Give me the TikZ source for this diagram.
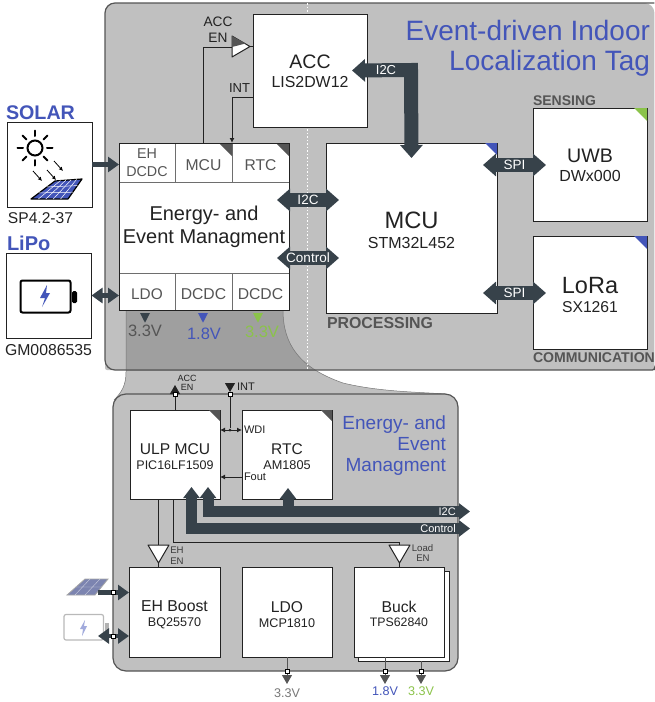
\documentclass[tikz,border=0pt]{standalone}
\usepackage{fontspec}
\setmainfont{Liberation Sans}
\usetikzlibrary{arrows.meta,calc}
\definecolor{panel}{HTML}{C0C0C0}
\definecolor{overlap}{HTML}{9F9F9F}
\definecolor{bus}{HTML}{37424A}
\definecolor{ink}{HTML}{222222}
\definecolor{tagblue}{HTML}{4355B9}
\definecolor{taggreen}{HTML}{8BC34A}
\definecolor{cellgray}{HTML}{555555}
\newcommand\fp[1]{\fontsize{#1}{#1}\selectfont}
\newcommand\topstr{\rule{0pt}{1em}}
\newcommand\lowstr{\rule{0pt}{.8em}}
\newcommand\midstr{\rule{0pt}{.9em}}
\newcommand\cornermark[3]{\fill[#2] (#1.north east) -- ++(-#3,0) -- ++(#3,#3) -- cycle;}
\tikzset{
 box/.style={draw=ink,fill=white,line width=1pt,inner sep=0pt,outer sep=0pt,align=center,text=ink},
 cell/.style={draw=cellgray!85,fill=white,line width=.8pt,inner sep=0pt,outer sep=0pt,align=center,text=cellgray},
 wire/.style={draw=ink,line width=1pt},
 txt/.style={inner sep=0pt,outer sep=0pt,text=ink,align=center},
 head/.style={inner sep=0pt,outer sep=0pt,text=cellgray,font=\bfseries},
 buslabel/.style={inner sep=0pt,text=white},
 fatbus/.style={draw=bus,line width=14pt},
 slimbus/.style={draw=bus,line width=11pt},
 power/.style={draw=bus,line width=4.5pt},
 port/.style={draw=black,fill=white,line width=.8pt,minimum size=4pt,inner sep=0pt,outer sep=0pt},
 buffer/.style={draw=ink,fill=white,line width=1pt,line join=round},
 bigtitle/.style={txt,anchor=east,text=tagblue,font=\fp{28},text height=20pt,text depth=0pt},
 subtitle/.style={txt,anchor=east,text=tagblue,font=\fp{19},text height=14pt,text depth=0pt},
 fathead/.tip={Triangle[width=22pt,length=13pt]},
 slimhead/.tip={Triangle[width=16pt,length=11pt]},
 powhead/.tip={Triangle[width=15pt,length=11pt]},
 smallhead/.tip={Latex[length=5pt,width=5pt]},
 outhead/.tip={Triangle[width=10pt,length=9pt]},
}
\begin{document}
\begin{tikzpicture}[x=1pt,y=-1pt]
\useasboundingbox (0,0) rectangle (655,702);
% main panel
\path[fill=panel] (105,370) [rounded corners=10pt] -- (105,3) -- (654.4,3) [rounded corners=2pt] -- (654.4,370) -- cycle;
% funnel
\def\funnel{(126,310) -- (126,372) .. controls (126,385) and (122,392) .. (114,400) -- (130,410) -- (445,410) -- (445,394) .. controls (420,392) and (380,392) .. (343,383) .. controls (300,368) and (283,345) .. (283,310) -- cycle}
\fill[panel] \funnel;
\begin{scope}
\clip (105,3) rectangle (654.4,370);
\fill[overlap] \funnel;
\end{scope}
\draw[cellgray!80,line width=.5pt] (126,310) -- (126,372) .. controls (126,385) and (122,392) .. (114,400);
\draw[cellgray!80,line width=.5pt] (445,394) .. controls (420,392) and (380,392) .. (343,383) .. controls (300,368) and (283,345) .. (283,310);
\draw[cellgray,line width=1.2pt] (654.4,370) [rounded corners=2pt] -- (654.4,370) [rounded corners=10pt] -- (105,370) -- (105,3) -- (654.4,3);
\draw[white,line width=.9pt,dash pattern=on 1.5pt off 2pt] (307,3) -- (307,370);
% title
\node[bigtitle] (title1) at (650,30) {Event-driven Indoor};
\node[bigtitle] (title2) at (650,60) {Localization Tag};
% solar / lipo
\node[txt,anchor=west,text=tagblue,font=\fp{19.7}\bfseries] (solarlabel) at (6,113) {SOLAR};
\node[box,minimum width=85pt,minimum height=85pt] (solarbox) at (49.5,164.5) {};
\node[txt,anchor=west,font=\fp{15.6}] (solarpart) at (8,218) {SP4.2-37};
\node[txt,anchor=west,text=tagblue,font=\fp{20}\bfseries] (lipolabel) at (7,243) {LiPo};
\node[box,minimum width=85pt,minimum height=85pt] (lipobox) at (49,295.5) {};
\node[txt,font=\fp{15.8}] (lipopart) at (48.5,350) {GM0086535};
% sun icon
\draw[black,line width=2pt] (35,148) circle (7.5);
\foreach \a in {0,45,...,315}{\draw[black,line width=2pt,line cap=round] (35,148) ++(\a:12) -- ++(\a:5.5);}
\foreach \p/\q in {33/171,47/170,54/161}{
 \draw[black,line width=.8pt,-{Latex[length=4pt,width=4pt]}] (\p,\q) -- ++(9,10);}
\coordinate (p0) at (55,181); \coordinate (p1) at (82,179); \coordinate (p2) at (68,199); \coordinate (p3) at (31,199);
\draw[black,fill=tagblue,line width=1.2pt,line join=round] (p0) -- (p1) -- (p2) -- (p3) -- cycle;
\foreach \t in {.33,.66}{\draw[white,line width=.5pt] ($(p0)!\t!(p3)$) -- ($(p1)!\t!(p2)$);}
\foreach \t in {.2,.4,.6,.8}{\draw[white,line width=.5pt] ($(p0)!\t!(p1)$) -- ($(p3)!\t!(p2)$);}
% battery icon
\draw[black,line width=2pt,fill=white,rounded corners=2pt] (20.5,280.5) rectangle (70.5,312.5);
\fill[black,rounded corners=1.5pt] (72,291) rectangle (77,303);
\fill[tagblue] (47,285) -- (40,298) -- (45,298) -- (42,307) -- (50,293) -- (46,293) -- cycle;
% top boxes
\node[box,minimum width=114pt,minimum height=113pt] (acc) at (310,70.5) {\fp{19.5}\lowstr ACC\\[7.5pt]\fp{15.9}LIS2DW12};
\node[box,minimum width=171pt,minimum height=170pt] (mcu) at (411.5,228) {\fp{23.7}\midstr MCU\\[8pt]\fp{16}STM32L452};
\node[box,minimum width=114pt,minimum height=113pt] (uwb) at (590,164.5) {\fp{19.6}\lowstr UWB\\[7pt]\fp{16}DWx000};
\node[box,minimum width=114pt,minimum height=113pt] (lora) at (590,292.5) {\fp{23.5}\midstr LoRa\\[7.5pt]\fp{15.7}SX1261};
\cornermark{mcu}{tagblue}{12}
\cornermark{uwb}{taggreen}{13}
\cornermark{lora}{tagblue}{13}
\node[head,anchor=west,font=\fp{14}\bfseries] (sensing) at (533,101) {SENSING};
\node[head,anchor=west,font=\fp{15.9}\bfseries] (processing) at (327,323) {PROCESSING};
\node[head,anchor=west,font=\fp{14.1}\bfseries] (comm) at (533,358) {COMMUNICATION};
% energy block
\node[box,minimum width=170pt,minimum height=167pt,font=\fp{20}] (emm) at (204,226.5) {Energy- and\\[3pt]Event Managment};
\node[cell,minimum width=56pt,minimum height=39pt,font=\fp{14.3}] (ehcell) at (147,162.5) {EH\\[3pt]DCDC};
\node[cell,minimum width=57pt,minimum height=39pt,font=\fp{15.7}] (mcucell) at (203.5,162.5) {\topstr MCU};
\node[cell,minimum width=57pt,minimum height=39pt,font=\fp{15.6}] (rtccell) at (260.5,162.5) {\topstr RTC};
\node[cell,minimum width=56pt,minimum height=37pt,font=\fp{15.4}] (ldocell) at (147,291.5) {\topstr LDO};
\node[cell,minimum width=57pt,minimum height=37pt,font=\fp{15.7}] (dcone) at (203.5,291.5) {\topstr DCDC};
\node[cell,minimum width=57pt,minimum height=37pt,font=\fp{15.7}] (dctwo) at (260.5,291.5) {\topstr DCDC};
\cornermark{mcucell}{cellgray}{13}
\cornermark{rtccell}{cellgray}{13}
\draw[ink,line width=1pt] (emm.south west) rectangle (emm.north east);
\fill[bus] (140,313) -- (150,313) -- (145,322.7) -- cycle;
\fill[tagblue] (198,313) -- (208,313) -- (203,322.7) -- cycle;
\fill[taggreen] (253,313) -- (263,313) -- (258,322.7) -- cycle;
\node[txt,text=cellgray,font=\fp{16.5}] (vone) at (145,331) {3.3V};
\node[txt,text=tagblue,font=\fp{16.5}] (vtwo) at (204,333.5) {1.8V};
\node[txt,text=taggreen,font=\fp{16.5}] (vthree) at (262,332) {3.3V};
% thin connectors top
\coordinate (accbufin) at (232,47);
\coordinate (accbufout) at (250,46.5);
\draw[wire] (mcucell.north) |- (accbufin);
\draw[wire] (accbufout) -- (accbufout -| acc.west);
\draw[wire,-{smallhead}] (acc.west |- 0,97) -| (mcucell.north east);
\draw[buffer] (232,36) -- (accbufout) -- (232,57) -- cycle;
\fill[cellgray] (232,36) -- (245.5,43.5) -- (232,47) -- cycle;
\node[txt,font=\fp{13.7}] (acclabel) at (218,22) {ACC};
\node[txt,font=\fp{13.7}] (enlabel) at (218,38) {EN};
\node[txt,font=\fp{13}] (intlabel) at (239.5,88) {INT};
% power arrows
\draw[power,-{powhead}] (solarbox.east) -- (solarbox.east -| ehcell.west);
\draw[power,{powhead}-{powhead}] (lipobox.east) -- (lipobox.east -| ldocell.west);
% fat buses
\draw[fatbus,{fathead}-{fathead}] (277,200) -- node[buslabel,font=\fp{13.5}] (ictwo) {I2C} (339,200);
\draw[fatbus,{fathead}-{fathead}] (277,258) -- node[buslabel,font=\fp{13.5}] (ctrl) {Control} (339,258);
\draw[fatbus,{fathead}-{fathead}] ([xshift=-15pt]acc.east) -- (411,70) -- ([yshift=-15pt]mcu.north);
\node[buslabel,font=\fp{13}] (icacc) at (386,70) {I2C};
\draw[fatbus,{fathead}-{fathead}] (483,165) -- node[buslabel,font=\fp{13.5}] (spione) {SPI} (546,165);
\draw[fatbus,{fathead}-{fathead}] (483,293) -- node[buslabel,font=\fp{13.5}] (spitwo) {SPI} (546,293);
% detail panel
\draw[cellgray,fill=panel,line width=1.2pt,rounded corners=13pt] (113,394) rectangle (458,671);
\node[subtitle] (dt1) at (446,422) {Energy- and};
\node[subtitle] (dt2) at (446,443) {Event};
\node[subtitle] (dt3) at (446,464) {Managment};
\node[box,minimum width=90pt,minimum height=89pt] (ulp) at (175,454.5) {\fp{15.6}\topstr ULP MCU\\[3.5pt]\fp{12.5}PIC16LF1509};
\node[box,minimum width=90pt,minimum height=89pt] (rtc) at (287,454.5) {\fp{15.5}\topstr RTC\\[2.5pt]\fp{12.7}AM1805};
\cornermark{ulp}{cellgray}{11}
\cornermark{rtc}{cellgray}{11}
\node[box,minimum width=91pt,minimum height=90pt] (boost) at (174.5,612) {\fp{15.8}\topstr EH Boost\\[3pt]\fp{12.6}BQ25570};
\node[box,minimum width=90pt,minimum height=90pt] (ldo) at (287,612) {\fp{15.6}\topstr LDO\\[3pt]\fp{12.6}MCP1810};
\node[box,minimum width=91pt,minimum height=90pt] (bucksh) at (403.5,616) {};
\node[box,minimum width=90pt,minimum height=90pt] (buck) at (399,612) {\fp{15.7}\topstr Buck\\[2pt]\fp{12.3}TPS62840};
% detail buses
\draw[slimbus,{slimhead}-{slimhead}] (208,487) |- (470,511.5);
\draw[slimbus,{slimhead}-{slimhead}] (191.5,487) |- (470,528.5);
\draw[slimbus,{slimhead}-] (288,488) -- (288,506);
\node[buslabel,anchor=east,font=\fp{11}] (detic) at (456,512) {I2C};
\node[buslabel,anchor=east,font=\fp{11}] (detctrl) at (456,528.5) {Control};
% detail wires
\draw[wire,-{outhead}] (ulp.north) -- (175,385);
\node[port] (accport) at (175,394) {};
\coordinate (intin) at (230,384);
\node[port] (intport) at (230,394) {};
\draw[wire,-{outhead}] (intin) -- (intport.north);
\node[circle,fill=ink,inner sep=0pt,minimum size=3pt] (wdidot) at (230,430) {};
\draw[wire] (intport) -- (wdidot);
\draw[wire,{smallhead}-{smallhead}] (ulp.east |- wdidot) -- (rtc.west |- wdidot);
\draw[wire,-{smallhead}] (rtc.west |- 0,477) -- (ulp.east |- 0,477);
\node[txt,anchor=west,font=\fp{11}] (wdi) at (244,430) {WDI};
\node[txt,anchor=west,font=\fp{11}] (fout) at (244,477) {Fout};
\node[txt,font=\fp{9}] (da) at (187,378) {ACC};
\node[txt,font=\fp{9}] (db) at (187,387.5) {EN};
\node[txt,anchor=west,font=\fp{11}] (dc) at (237,387) {INT};
% enables
\coordinate (ehbuf) at (158,545);
\coordinate (ldbuf) at (399.5,545);
\draw[wire] (ehbuf |- ulp.south) -- (ehbuf);
\draw[wire] (173,499) |- (399.5,542) -- (ldbuf);
\draw[buffer] (148,545) -- (169,545) -- (158.5,563) -- cycle;
\draw[buffer] (389,545) -- (410,545) -- (399.5,563) -- cycle;
\draw[wire] (158.5,563) -- (158.5,567);
\draw[wire] (399.5,563) -- (399.5,567);
\node[txt,font=\fp{9.6},text=cellgray!70!black] (ea) at (177,550) {EH};
\node[txt,font=\fp{9.6},text=cellgray!70!black] (eb) at (177,561) {EN};
\node[txt,font=\fp{9.6},text=cellgray!70!black] (la) at (422.5,548) {Load};
\node[txt,font=\fp{9.6},text=cellgray!70!black] (lb) at (423,558.5) {EN};
% faded inputs
\fill[tagblue!55!panel!80!gray,draw=gray!70,line width=.8pt] (67,595) -- (85,579) -- (108,579) -- (95,595) -- cycle;
\draw[white,opacity=.6,line width=.4pt] (76,587) -- (102,587) (90,579) -- (75,595) (100,579) -- (85,595);
\draw[gray!55,fill=white,line width=1.2pt,rounded corners=2pt] (64,614.5) rectangle (103.5,640);
\fill[gray!60] (105,623) rectangle (109,632);
\fill[tagblue!50!white] (85,620) -- (80,629) -- (83,629) -- (82,636) -- (87,626) -- (84,626) -- cycle;
\coordinate (pvin) at (98,592.5);
\coordinate (batin) at (98,636);
\draw[power,-{powhead}] (pvin) -- (pvin -| boost.west);
\draw[power,{powhead}-{powhead}] (batin) -- (batin -| boost.west);
\node[port] (pvport) at (113,592.5) {};
\node[port] (batport) at (113,636) {};
% outputs
\draw[wire,draw=cellgray,-{outhead}] (ldo.south) -- (287,684);
\node[port] (ldoport) at (287,671) {};
\draw[wire,draw=cellgray,-{outhead}] (385,657) -- (385,684);
\node[port] (bkone) at (385,671) {};
\draw[wire,draw=cellgray,-{outhead}] (bucksh.south -| 421,0) -- (421,684);
\node[port] (bktwo) at (421,671) {};
\node[txt,text=cellgray!80,font=\fp{12.6}] (oa) at (287,693) {3.3V};
\node[txt,text=tagblue,font=\fp{12.6}] (ob) at (385,691) {1.8V};
\node[txt,text=taggreen,font=\fp{12.6}] (oc) at (421,691) {3.3V};
\end{tikzpicture}
\end{document}
